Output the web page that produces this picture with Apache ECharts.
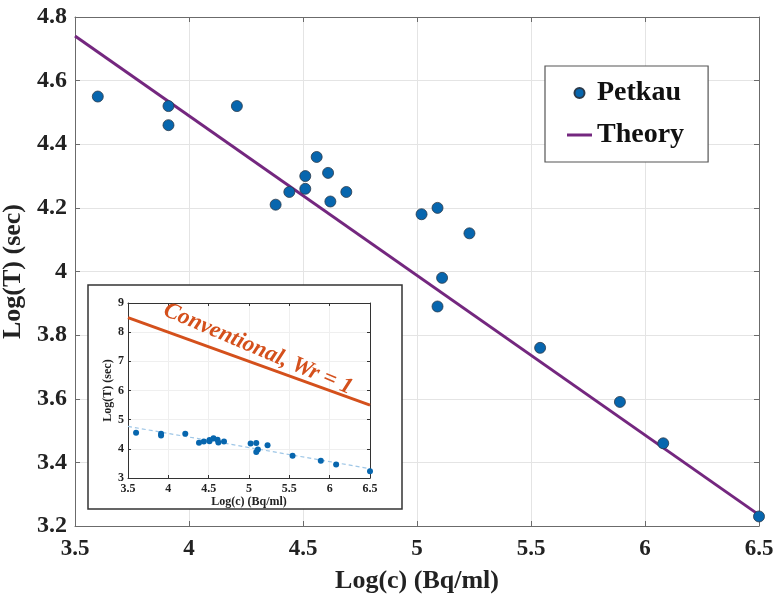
<!DOCTYPE html>
<html>
<head>
<meta charset="utf-8">
<script src="https://cdn.jsdelivr.net/npm/echarts@6/dist/echarts.min.js"></script>
<style>
  html, body { margin: 0; padding: 0; background: #fff; }
  #chart { width: 778px; height: 596px; }
</style>
</head>
<body>
<div id="chart"></div>
<script>
// measured Petkau points, log10 of concentration vs log10 of time
const petkauX = [3.60, 3.91, 3.91, 4.21, 4.38, 4.44, 4.51, 4.51, 4.56, 4.61, 4.62,
  4.69, 5.02, 5.09, 5.23, 5.11, 5.09, 5.54, 5.89, 6.08, 6.50];
const petkauY = [4.55, 4.52, 4.46, 4.52, 4.21, 4.25, 4.26, 4.30, 4.36, 4.31, 4.22,
  4.25, 4.18, 4.20, 4.12, 3.98, 3.89, 3.76, 3.59, 3.46, 3.23];

// theory line (main plot)
const theoryX = [3.5, 6.5];
const theoryY = [4.74, 3.235];

// inset: dashed fit and conventional model
const fitX = [3.5, 6.5];
const fitY = [4.77, 3.32];
const convX = [3.5, 6.5];
const convY = [8.5, 5.5];

const zip = (xs, ys) => xs.map((x, i) => [x, ys[i]]);

const FONT = '"Liberation Serif", "Times New Roman", serif';
const AXIS_COLOR = '#6b6b6b';
const GRID_COLOR = '#e4e4e4';

function mainAxis(extra) {
  return Object.assign({
    type: 'value',
    gridIndex: 0,
    axisLine: { show: true, lineStyle: { color: AXIS_COLOR, width: 1 } },
    axisTick: { show: true, inside: true, length: 5, lineStyle: { color: AXIS_COLOR } },
    splitLine: { show: false },
    axisLabel: { show: false }
  }, extra);
}

function insetAxis(extra) {
  return Object.assign({
    type: 'value',
    gridIndex: 1,
    z: 10,
    axisLine: { show: true, lineStyle: { color: '#333', width: 1 } },
    axisTick: { show: true, inside: true, length: 3, lineStyle: { color: '#333' } },
    splitLine: { show: false },
    axisLabel: { show: false }
  }, extra);
}

const chart = echarts.init(document.getElementById('chart'));
chart.setOption({
  animation: false,
  backgroundColor: '#fff',
  grid: [
    { left: 75, right: 19, top: 17, bottom: 70, containLabel: false, outerBoundsMode: 'none' },
    { left: 128, right: 408, top: 303, bottom: 118, z: 10, containLabel: false, outerBoundsMode: 'none' }
  ],
  legend: {
    orient: 'vertical',
    left: 545,
    top: 66,
    padding: [13, 24, 13, 22],
    itemGap: 14,
    itemWidth: 25,
    itemHeight: 10,
    borderColor: '#555',
    borderWidth: 1.2,
    backgroundColor: '#fff',
    textStyle: { fontFamily: FONT, fontWeight: 'bold', fontSize: 28, color: '#111' },
    data: [
      { name: 'Petkau', icon: 'circle' },
      { name: 'Theory', icon: 'path://M0,0 L25,0 L25,3 L0,3 Z' }
    ]
  },
  xAxis: [
    mainAxis({
      min: 3.5, max: 6.5, interval: 0.5,
      name: 'Log(c) (Bq/ml)',
      nameLocation: 'middle',
      nameGap: 42,
      nameTextStyle: { fontFamily: FONT, fontWeight: 'bold', fontSize: 26, color: '#222' },
      splitLine: { show: true, lineStyle: { color: GRID_COLOR } },
      axisLabel: {
        show: true, margin: 12, showMinLabel: true, showMaxLabel: true,
        fontFamily: FONT, fontWeight: 'bold', fontSize: 23, color: '#222'
      }
    }),
    mainAxis({ min: 3.5, max: 6.5, interval: 0.5, position: 'top' }),
    insetAxis({
      min: 3.5, max: 6.5, interval: 0.5,
      name: 'Log(c) (Bq/ml)',
      nameLocation: 'middle',
      nameGap: 17,
      nameTextStyle: { fontFamily: FONT, fontWeight: 'bold', fontSize: 12, color: '#222' },
      splitLine: { show: true, lineStyle: { color: '#efefef' } },
      axisLabel: {
        show: true, margin: 5, showMinLabel: true, showMaxLabel: true,
        fontFamily: FONT, fontWeight: 'bold', fontSize: 12, color: '#222'
      }
    }),
    insetAxis({ min: 3.5, max: 6.5, interval: 0.5, position: 'top' })
  ],
  yAxis: [
    mainAxis({
      min: 3.2, max: 4.8, interval: 0.2,
      name: 'Log(T) (sec)',
      nameLocation: 'middle',
      nameGap: 5,
      nameTextStyle: { fontFamily: FONT, fontWeight: 'bold', fontSize: 26, color: '#222' },
      splitLine: { show: true, lineStyle: { color: GRID_COLOR } },
      axisLabel: {
        show: true, margin: 8, showMinLabel: true, showMaxLabel: true,
        fontFamily: FONT, fontWeight: 'bold', fontSize: 24, color: '#222',
        formatter: v => String(Math.round(v * 10) / 10)
      }
    }),
    mainAxis({ min: 3.2, max: 4.8, interval: 0.2, position: 'right' }),
    insetAxis({
      gridIndex: 1,
      min: 3, max: 9, interval: 1,
      name: 'Log(T) (sec)',
      nameLocation: 'middle',
      nameGap: 14,
      nameTextStyle: { fontFamily: FONT, fontWeight: 'bold', fontSize: 12, color: '#222' },
      splitLine: { show: true, lineStyle: { color: '#efefef' } },
      axisLabel: {
        show: true, margin: 4, showMinLabel: true, showMaxLabel: true,
        fontFamily: FONT, fontWeight: 'bold', fontSize: 12, color: '#222'
      }
    }),
    insetAxis({ min: 3, max: 9, interval: 1, position: 'right' })
  ],
  graphic: [
    {
      type: 'rect',
      z: 5,
      shape: { x: 88, y: 285, width: 314, height: 224 },
      style: { fill: '#fff', stroke: '#333', lineWidth: 1.5 }
    },
    {
      type: 'text',
      z: 20,
      x: 258,
      y: 349,
      rotation: -23 * Math.PI / 180,
      style: {
        text: 'Conventional, Wr = 1',
        fill: '#D4501C',
        font: 'italic bold 23px ' + FONT,
        align: 'center',
        verticalAlign: 'middle'
      }
    }
  ],
  series: [
    {
      name: 'Theory',
      type: 'line',
      xAxisIndex: 0, yAxisIndex: 0,
      data: zip(theoryX, theoryY),
      symbol: 'none',
      lineStyle: { color: '#74277F', width: 3 },
      itemStyle: { color: '#74277F' },
      z: 3
    },
    {
      name: 'Petkau',
      type: 'scatter',
      xAxisIndex: 0, yAxisIndex: 0,
      data: zip(petkauX, petkauY),
      symbolSize: 11,
      itemStyle: { color: '#0766AE', borderColor: '#2b3a4a', borderWidth: 0.8, opacity: 1 },
      z: 4
    },
    {
      type: 'line',
      xAxisIndex: 2, yAxisIndex: 2,
      data: zip(convX, convY),
      symbol: 'none',
      lineStyle: { color: '#D4501C', width: 3 },
      z: 11
    },
    {
      type: 'line',
      xAxisIndex: 2, yAxisIndex: 2,
      data: zip(fitX, fitY),
      symbol: 'none',
      lineStyle: { color: '#9ec6e6', width: 1.2, type: [4, 3] },
      z: 11
    },
    {
      type: 'scatter',
      xAxisIndex: 2, yAxisIndex: 2,
      data: zip(petkauX, petkauY),
      symbolSize: 6,
      itemStyle: { color: '#0766AE', opacity: 1 },
      z: 12
    }
  ]
});
</script>
</body>
</html>
